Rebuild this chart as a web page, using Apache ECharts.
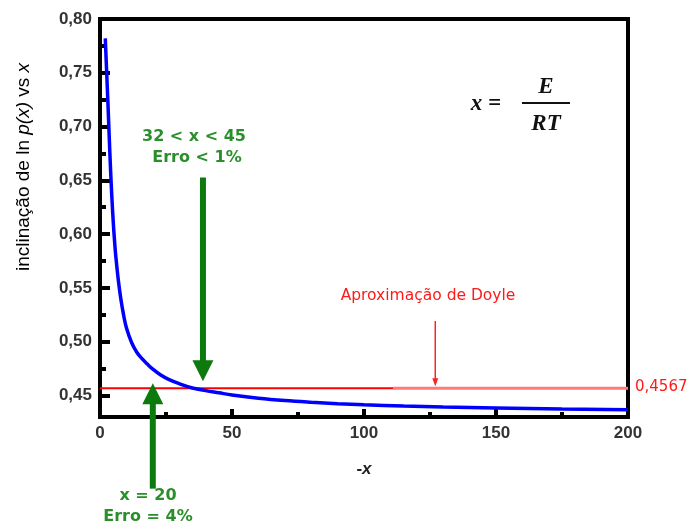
<!DOCTYPE html>
<html>
<head>
<meta charset="utf-8">
<script src="https://cdn.jsdelivr.net/npm/echarts@6/dist/echarts.min.js"></script>
<style>
  html, body { margin: 0; padding: 0; background: #fff; }
  #main { width: 690px; height: 526px; }
</style>
</head>
<body>
<div id="main"></div>
<script>
// curva azul: inclinação de ln p(x) vs x
var curveX = [2, 2.5, 3, 3.5, 4, 4.5, 5, 5.5, 6, 7, 8, 9, 10, 12, 14, 16, 18, 20, 23, 26, 30, 35, 40, 45, 50, 60, 70, 80, 90, 100, 115, 130, 150, 175, 200];
var curveY = [0.782, 0.752, 0.722, 0.690, 0.660, 0.634, 0.612, 0.594, 0.579, 0.556, 0.538, 0.524, 0.513, 0.499, 0.490, 0.484, 0.479, 0.4745, 0.469, 0.465, 0.461, 0.457, 0.4545, 0.4525, 0.4505, 0.4475, 0.4453, 0.4437, 0.4424, 0.4414, 0.4402, 0.4393, 0.4384, 0.4375, 0.4368];

// aproximação de Doyle
var doyle = 0.4567;
var doyleLeftX = [0, 111];
var doyleRightX = [111, 200];

// ticks
var yMajor = [0.45, 0.50, 0.55, 0.60, 0.65, 0.70, 0.75, 0.80];
var yMinor = [0.475, 0.525, 0.575, 0.625, 0.675, 0.725, 0.775];

// setas: [x, y inicio, y ponta]
var greenArrows = [[39, 0.6526, 0.4632], [20, 0.3634, 0.4614]];
var redArrows = [[127, 0.5192, 0.4586]];

var myChart = echarts.init(document.getElementById('main'));

function pairs(xs, ys) {
    var out = [];
    for (var i = 0; i < xs.length; i++) out.push([xs[i], ys[i]]);
    return out;
}

function arrowRender(color, shaftW, headL, headW) {
    return function (params, api) {
        var from = api.coord([api.value(0), api.value(1)]);
        var tip = api.coord([api.value(0), api.value(2)]);
        var dir = tip[1] > from[1] ? 1 : -1;
        var base = tip[1] - dir * headL;
        return {
            type: 'group',
            children: [
                {
                    type: 'line',
                    shape: { x1: from[0], y1: from[1], x2: tip[0], y2: base + dir * 1 },
                    style: { stroke: color, lineWidth: shaftW }
                },
                {
                    type: 'polygon',
                    shape: { points: [[tip[0], tip[1]], [tip[0] - headW / 2, base], [tip[0] + headW / 2, base]] },
                    style: { fill: color }
                }
            ]
        };
    };
}

var labelFont = 'Liberation Sans';
var comic = 'DejaVu Sans';

option = {
    animation: false,
    grid: { left: 100, top: 19, right: 62, bottom: 109, show: true, borderColor: '#000', borderWidth: 4, backgroundColor: '#fff' },
    xAxis: {
        type: 'value', min: 0, max: 200, interval: 50,
        name: '{b|-}{i|x}', nameLocation: 'middle', nameGap: 44,
        nameTextStyle: { rich: {
            b: { fontFamily: labelFont, fontWeight: 'bold', fontSize: 17, color: '#222' },
            i: { fontFamily: labelFont, fontWeight: 'bold', fontStyle: 'italic', fontSize: 17, color: '#222' }
        } },
        axisLine: { show: true, lineStyle: { color: '#000', width: 4 } },
        axisTick: { inside: true, length: 8, lineStyle: { color: '#000', width: 4 } },
        minorTick: { show: true, splitNumber: 2, length: 5, lineStyle: { color: '#000', width: 4 } },
        axisLabel: { margin: 8, fontFamily: labelFont, fontSize: 17, fontWeight: 'bold', color: '#333' },
        splitLine: { show: false }
    },
    yAxis: [
        {
            type: 'value', min: 0.43, max: 0.80,
            axisLine: { show: true, lineStyle: { color: '#000', width: 4 } },
            axisTick: { inside: true, length: 10, customValues: yMajor, lineStyle: { color: '#000', width: 4 } },
            axisLabel: {
                customValues: yMajor, margin: 8, fontFamily: labelFont, fontSize: 17, fontWeight: 'bold', color: '#333',
                formatter: function (v) { return v.toFixed(2).replace('.', ','); }
            },
            splitLine: { show: false }
        },
        {
            type: 'value', min: 0.43, max: 0.80, position: 'left',
            axisLine: { show: false },
            axisTick: { show: true, inside: true, length: 6, customValues: yMinor, lineStyle: { color: '#000', width: 4 } },
            axisLabel: { show: false },
            splitLine: { show: false }
        }
    ],
    series: [
        {
            type: 'line', data: pairs(doyleLeftX, [doyle, doyle]), symbol: 'none',
            lineStyle: { color: '#ff0000', width: 2 }, z: 3
        },
        {
            type: 'line', data: pairs(doyleRightX, [doyle, doyle]), symbol: 'none',
            lineStyle: { color: '#ff7a7a', width: 3 }, z: 3
        },
        {
            type: 'line', data: pairs(curveX, curveY), symbol: 'none', smooth: 0.4,
            lineStyle: { color: '#0000ff', width: 3.5 }, z: 4
        },
        {
            type: 'custom', data: greenArrows, encode: { x: 0, y: [1, 2] }, clip: false, z: 5,
            renderItem: arrowRender('#0d7a0d', 6, 21, 21)
        },
        {
            type: 'custom', data: redArrows, encode: { x: 0, y: [1, 2] }, clip: false, z: 5,
            renderItem: arrowRender('#ff2020', 1.5, 8, 6)
        }
    ],
    graphic: [
        {
            type: 'text', x: 24, y: 167, rotation: Math.PI / 2,
            style: {
                text: '{n|inclinação de ln }{i|p(x)}{n| vs }{i|x}',
                align: 'center', verticalAlign: 'middle',
                rich: {
                    n: { fontFamily: labelFont, fontSize: 19, color: '#333' },
                    i: { fontFamily: labelFont, fontSize: 19, fontStyle: 'italic', color: '#333' }
                }
            }
        },
        // fórmula x = E/RT
        { type: 'text', x: 486, y: 104, style: { text: 'x =', align: 'center', verticalAlign: 'middle', fontFamily: 'Liberation Serif', fontStyle: 'italic', fontWeight: 'bold', fontSize: 23, fill: '#111' } },
        { type: 'text', x: 546, y: 87, style: { text: 'E', align: 'center', verticalAlign: 'middle', fontFamily: 'Liberation Serif', fontStyle: 'italic', fontWeight: 'bold', fontSize: 23, fill: '#111' } },
        { type: 'line', shape: { x1: 522, y1: 103, x2: 570, y2: 103 }, style: { stroke: '#111', lineWidth: 2 } },
        { type: 'text', x: 546, y: 124, style: { text: 'RT', align: 'center', verticalAlign: 'middle', fontFamily: 'Liberation Serif', fontStyle: 'italic', fontWeight: 'bold', fontSize: 23, fill: '#111' } },
        // textos verdes
        { type: 'text', x: 194, y: 137, style: { text: '32 < x < 45', align: 'center', verticalAlign: 'middle', fontFamily: comic, fontWeight: 'bold', fontSize: 16, fill: '#2a8f2a' } },
        { type: 'text', x: 197, y: 158, style: { text: 'Erro < 1%', align: 'center', verticalAlign: 'middle', fontFamily: comic, fontWeight: 'bold', fontSize: 16, fill: '#2a8f2a' } },
        { type: 'text', x: 148, y: 496, style: { text: 'x = 20', align: 'center', verticalAlign: 'middle', fontFamily: comic, fontWeight: 'bold', fontSize: 16, fill: '#2a8f2a' } },
        { type: 'text', x: 148, y: 517, style: { text: 'Erro = 4%', align: 'center', verticalAlign: 'middle', fontFamily: comic, fontWeight: 'bold', fontSize: 16, fill: '#2a8f2a' } },
        // textos vermelhos
        { type: 'text', x: 428, y: 296, style: { text: 'Aproximação de Doyle', align: 'center', verticalAlign: 'middle', fontFamily: comic, fontSize: 15.5, fill: '#ff1a1a' } },
        { type: 'text', x: 635, y: 387, style: { text: '0,4567', align: 'left', verticalAlign: 'middle', fontFamily: comic, fontSize: 15, fill: '#ff1a1a' } }
    ]
};

myChart.setOption(option);
</script>
</body>
</html>
